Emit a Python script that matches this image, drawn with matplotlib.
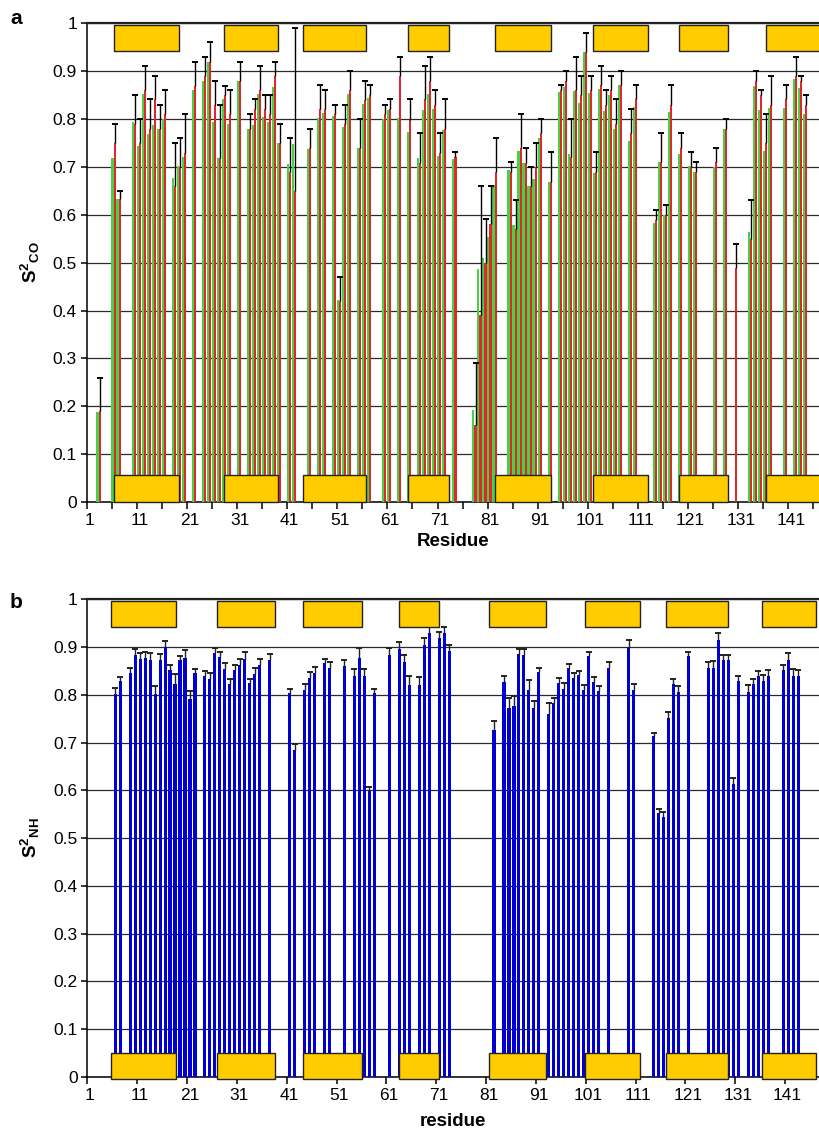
import matplotlib
matplotlib.use('Agg')
import matplotlib.pyplot as plt
from matplotlib.patches import Rectangle
import numpy as np

plt.rcParams['font.family'] = ['Liberation Sans', 'DejaVu Sans']
plt.rcParams['mathtext.fontset'] = 'custom'
plt.rcParams['mathtext.rm'] = 'Liberation Sans:bold'
plt.rcParams['mathtext.it'] = 'Liberation Sans:bold'
plt.rcParams['mathtext.bf'] = 'Liberation Sans:bold'

# ---- panel a : S2 CO, two series + upper error on the red one
res_a = [3, 6, 7, 10, 11, 12, 13, 14, 15, 16, 18, 19, 20, 22, 24, 25, 26, 27, 28, 29,
         31, 33, 34, 35, 36, 37, 38, 39, 41, 42, 45, 47, 48, 50, 51, 52, 53, 55, 56, 57,
         60, 61, 63, 65, 67, 68, 69, 70, 71, 72, 74, 78, 79, 80, 81, 82, 85, 86, 87, 88,
         89, 90, 91, 93, 95, 96, 97, 98, 99, 100, 101, 102, 103, 104, 105, 106, 107, 109, 110, 114,
         115, 116, 117, 119, 121, 122, 126, 128, 130, 133, 134, 135, 136, 137, 140, 142, 143, 144]
green_a = [.188, .719, .632, .793, .744, .852, .768, .787, .780, .801, .676, .702, .720, .860, .880, .919, .793, .719, .841, .790,
           .880, .780, .787, .853, .804, .793, .866, .750, .707, .747, .737, .803, .812, .806, .423, .783, .852, .739, .832, .843,
           .801, .818, .803, .772, .718, .818, .853, .820, .722, .777, .716, .193, .486, .509, .553, .663, .693, .578, .733, .709,
           .660, .674, .760, .669, .857, .866, .727, .859, .834, .940, .855, .688, .862, .816, .850, .779, .871, .754, .825, .583,
           .710, .600, .815, .727, .701, .690, .700, .779, np.nan, .563, .868, .818, .733, .824, .823, .884, .865, .811]
red_a = [.190, .750, .632, .789, .750, .860, .780, .841, .780, .810, .660, .700, .730, .870, .890, .919, .830, .719, .850, .810,
         .880, .780, .820, .860, .820, .810, .890, .750, .690, .650, .739, .820, .820, .811, .420, .789, .860, .739, .839, .850,
         .810, .820, .889, .799, .709, .841, .879, .829, .730, .779, .721, .160, .390, .500, .580, .690, .690, .571, .739, .709,
         .660, .700, .770, .668, .860, .879, .721, .860, .850, .940, .860, .690, .871, .829, .860, .789, .871, .770, .841, .590,
         .710, .600, .830, .739, .700, .690, .710, .779, .488, .550, .879, .850, .749, .829, .841, .890, .879, .829]
errtop_a = [.260, .790, .650, .850, .800, .910, .841, .890, .830, .860, .750, .761, .810, .920, .930, .960, .880, .830, .870, .860,
            .920, .810, .841, .910, .850, .850, .920, .790, .761, .991, .780, .871, .860, .830, .470, .830, .900, .800, .880, .871,
            .830, .841, .930, .841, .771, .910, .930, .860, .771, .841, .731, .290, .660, .591, .660, .761, .710, .630, .810, .740,
            .700, .750, .800, .731, .871, .900, .800, .930, .890, .980, .890, .731, .910, .860, .890, .841, .900, .820, .871, .611,
            .771, .620, .871, .771, .731, .710, .740, .800, .540, .630, .900, .860, .810, .890, .871, .930, .890, .850]

# ---- panel b : S2 NH
res_b = [6, 7, 9, 10, 11, 12, 13, 14, 15, 16, 17, 18, 19, 20, 21, 22, 24, 25, 26, 27,
         28, 29, 30, 31, 32, 33, 34, 35, 37, 41, 42, 44, 45, 46, 48, 49, 52, 54, 55, 56,
         57, 58, 61, 63, 64, 65, 67, 68, 69, 71, 72, 73, 82, 84, 85, 86, 87, 88, 89, 90,
         91, 93, 94, 95, 96, 97, 98, 99, 100, 101, 102, 103, 105, 109, 110, 114, 115, 116, 117, 118,
         119, 121, 125, 126, 127, 128, 129, 130, 131, 133, 134, 135, 136, 137, 140, 141, 142, 143]
s2nh_b = [.801, .828, .845, .883, .876, .878, .872, .801, .872, .900, .851, .822, .872, .878, .791, .845, .839, .834, .887, .880,
          .854, .822, .851, .863, .876, .824, .843, .863, .873, .803, .684, .810, .835, .845, .866, .856, .860, .840, .877, .839,
          .599, .803, .883, .895, .868, .820, .820, .904, .930, .918, .930, .891, .727, .826, .772, .776, .886, .884, .811, .772,
          .847, .759, .782, .824, .812, .856, .835, .842, .810, .881, .826, .808, .856, .898, .810, .713, .552, .545, .752, .822,
          .805, .881, .856, .857, .914, .872, .872, .614, .828, .805, .822, .840, .830, .839, .851, .872, .840, .839]
errtop_b = [.815, .837, .857, .895, .887, .890, .887, .819, .885, .912, .863, .843, .881, .893, .808, .855, .849, .846, .899, .890,
            .866, .834, .863, .876, .890, .834, .857, .874, .885, .813, .697, .822, .848, .859, .874, .869, .872, .854, .899, .854,
            .607, .812, .899, .911, .883, .839, .838, .918, .941, .931, .941, .904, .746, .839, .793, .798, .897, .897, .831, .787,
            .857, .782, .794, .836, .824, .864, .845, .849, .820, .890, .837, .819, .869, .914, .822, .721, .560, .555, .764, .834,
            .818, .890, .869, .871, .930, .883, .883, .625, .839, .820, .833, .850, .842, .851, .862, .888, .854, .851]

# secondary structure boxes (residue units)
box_a_start = [6.0, 27.8, 43.6, 64.6, 81.9, 101.6, 118.7, 136.0]
box_a_end = [19.0, 38.7, 56.2, 72.7, 93.2, 112.5, 128.5, 147.5]
box_b_start = [5.2, 26.6, 43.7, 63.1, 81.0, 100.3, 116.7, 135.9]
box_b_end = [18.3, 38.2, 55.7, 71.1, 92.6, 111.4, 129.1, 146.7]

W, H = 820, 1136
fig = plt.figure(figsize=(W / 100, H / 100), dpi=100)

yticks = np.round(np.arange(0, 1.01, 0.1), 1)
ylabels = ['0'] + ['%.1f' % v for v in yticks[1:-1]] + ['1']
xlabels_pos = list(range(1, 142, 10))


def setup_axes(ax, xmax, tick_step):
    ax.set_ylim(0, 1)
    ax.set_xlim(0.5, xmax)
    ax.set_yticks(yticks)
    ax.set_yticklabels(ylabels, fontsize=12.5)
    ax.yaxis.grid(True, color='#2a2a2a', lw=0.9)
    ax.set_axisbelow(True)
    for s in ['right']:
        ax.spines[s].set_visible(False)
    ax.spines['top'].set_color('#222222')
    ax.spines['top'].set_linewidth(1.6)
    ax.spines['left'].set_linewidth(1.1)
    ax.spines['bottom'].set_linewidth(1.1)
    ax.set_xticks(xlabels_pos)
    ax.set_xticklabels([str(v) for v in xlabels_pos], fontsize=12.5)
    ax.set_xticks(np.arange(0.5, xmax, tick_step), minor=True)
    ax.tick_params(axis='x', which='major', length=0, pad=8)
    ax.tick_params(axis='x', which='minor', length=5, width=1.1, direction='out')
    ax.tick_params(axis='y', length=4.5, width=1.1, pad=2.5)


def draw_boxes(ax, starts, ends, y0, y1):
    for s, e in zip(starts, ends):
        ax.add_patch(Rectangle((s, y0), e - s, y1 - y0, facecolor='#ffcc00',
                               edgecolor='#222222', lw=1.0, zorder=6, clip_on=False))


# ---------------- panel a
ax1 = fig.add_axes([86.7 / W, 1 - 502 / H, 733.3 / W, 478.7 / H])
setup_axes(ax1, 146.8, 5)
xa = np.array(res_a, dtype=float)
ax1.bar(xa - 0.35, green_a, width=0.42, color='#46d246', zorder=3, linewidth=0)
ax1.bar(xa + 0.07, red_a, width=0.42, color='#e2262c', zorder=3, linewidth=0)
ax1.vlines(xa + 0.07, red_a, errtop_a, color='black', lw=1.0, zorder=4)
ax1.plot(xa + 0.07, errtop_a, ls='none', marker='_', ms=4.0, mew=1.4, color='black', zorder=4)
draw_boxes(ax1, box_a_start, box_a_end, 0.942, 0.996)
draw_boxes(ax1, box_a_start, box_a_end, 0.0, 0.056)

# ---------------- panel b
ax2 = fig.add_axes([87.3 / W, 1 - 1077 / H, 732.7 / W, 477.7 / H])
setup_axes(ax2, 147.5, 10)
xb = np.array(res_b, dtype=float)
ax2.bar(xb + 0.1, s2nh_b, width=0.62, color='#0000d2', zorder=3, linewidth=0)
ax2.vlines(xb + 0.1, s2nh_b, errtop_b, color='#222222', lw=1.0, zorder=4)
ax2.plot(xb + 0.1, errtop_b, ls='none', marker='_', ms=4.5, mew=1.4, color='#222222', zorder=4)
draw_boxes(ax2, box_b_start, box_b_end, 0.941, 0.996)
draw_boxes(ax2, box_b_start, box_b_end, -0.005, 0.050)

# labels
fig.text(16 / W, 1 - 18 / H, 'a', fontsize=15, fontweight='bold', ha='center', va='center')
fig.text(16 / W, 1 - 602 / H, 'b', fontsize=15, fontweight='bold', ha='center', va='center')
fig.text(453 / W, 1 - 541 / H, 'Residue', fontsize=13.5, fontweight='bold', ha='center', va='center')
fig.text(453 / W, 1 - 1122 / H, 'residue', fontsize=13.5, fontweight='bold', ha='center', va='center')
fig.text(30 / W, 1 - 262 / H, r'S$^{2}$$_{\rm CO}$', fontsize=13.5, fontweight='bold',
         rotation=90, ha='center', va='center')
fig.text(30 / W, 1 - 838 / H, r'S$^{2}$$_{\rm NH}$', fontsize=13.5, fontweight='bold',
         rotation=90, ha='center', va='center')

fig.savefig('out.png', dpi=100)
